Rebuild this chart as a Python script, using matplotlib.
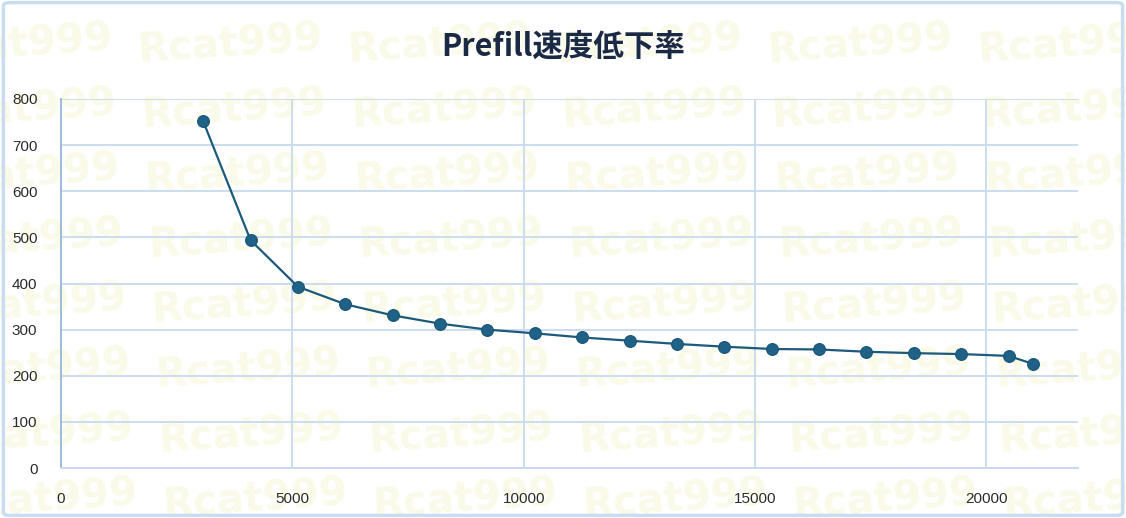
import numpy as np
import matplotlib
matplotlib.use("Agg")
import matplotlib.pyplot as plt
from matplotlib.patches import FancyBboxPatch

# prompt length (tokens) vs prefill speed
x_vals = [3072, 4096, 5120, 6144, 7168, 8192, 9216, 10240, 11264, 12288,
          13312, 14336, 15360, 16384, 17408, 18432, 19456, 20480, 21000]
y_vals = [752, 494, 393, 355, 331, 313, 300, 292, 283, 276,
          269, 263, 258, 257, 252, 249, 247, 243, 226]
x_ticks = [0, 5000, 10000, 15000, 20000]
y_ticks = [0, 100, 200, 300, 400, 500, 600, 700, 800]
title = "Prefill速度低下率"
mark = "Rcat999"

W, H = 1126, 518
fig = plt.figure(figsize=(W / 100, H / 100), dpi=100)
fig.patch.set_facecolor("white")

# watermark (behind the axes)
for i in range(8):
    py = 45 + 65 * i
    for j in range(-1, 6):
        px = 20 + 210 * j + 3.5 * i
        fig.text(px / W, 1 - py / H, mark, fontsize=29, fontweight="bold",
                 family="DejaVu Sans", color="#FAFAE9", ha="center", va="center",
                 rotation=4, zorder=-5)

# border
fig.patches.append(FancyBboxPatch((0.003, 0.005), 0.994, 0.99,
                                  boxstyle="round,pad=0,rounding_size=0.006",
                                  transform=fig.transFigure, fill=False,
                                  ec="#C9DCF0", lw=2.5, zorder=5))

ax = fig.add_axes([61 / W, 50 / H, (1078 - 61) / W, (468 - 99) / H])
ax.set_facecolor("none")
ax.plot(x_vals, y_vals, color="#1C5A7C", lw=1.6, marker="o", ms=8.5,
        mfc="#1F6187", mec="#1A5576", mew=0.8, zorder=3)

ax.set_xlim(0, 21980)
ax.set_ylim(0, 800)
ax.set_xticks(x_ticks)
ax.set_yticks(y_ticks)
ax.grid(True, color="#C8DAEE", lw=1.3, zorder=1)
ax.set_axisbelow(True)
for s in ["top", "right"]:
    ax.spines[s].set_visible(False)
ax.spines["left"].set_color("#9DBBD8")
ax.spines["left"].set_linewidth(1.4)
ax.spines["bottom"].set_color("#C8DAEE")
ax.spines["bottom"].set_linewidth(1.4)
ax.tick_params(length=0, labelsize=11, labelcolor="#2B2B2B")
ax.tick_params(axis="y", pad=17)
ax.tick_params(axis="x", pad=17)
for lab in ax.get_xticklabels() + ax.get_yticklabels():
    lab.set_family("Liberation Sans")

fig.text(0.5, 1 - 47 / H, title, ha="center", va="center", fontsize=22,
         fontweight="bold", color="#1B2A44",
         family=["Noto Sans CJK JP", "DejaVu Sans"])

fig.savefig("out.png", dpi=100)
